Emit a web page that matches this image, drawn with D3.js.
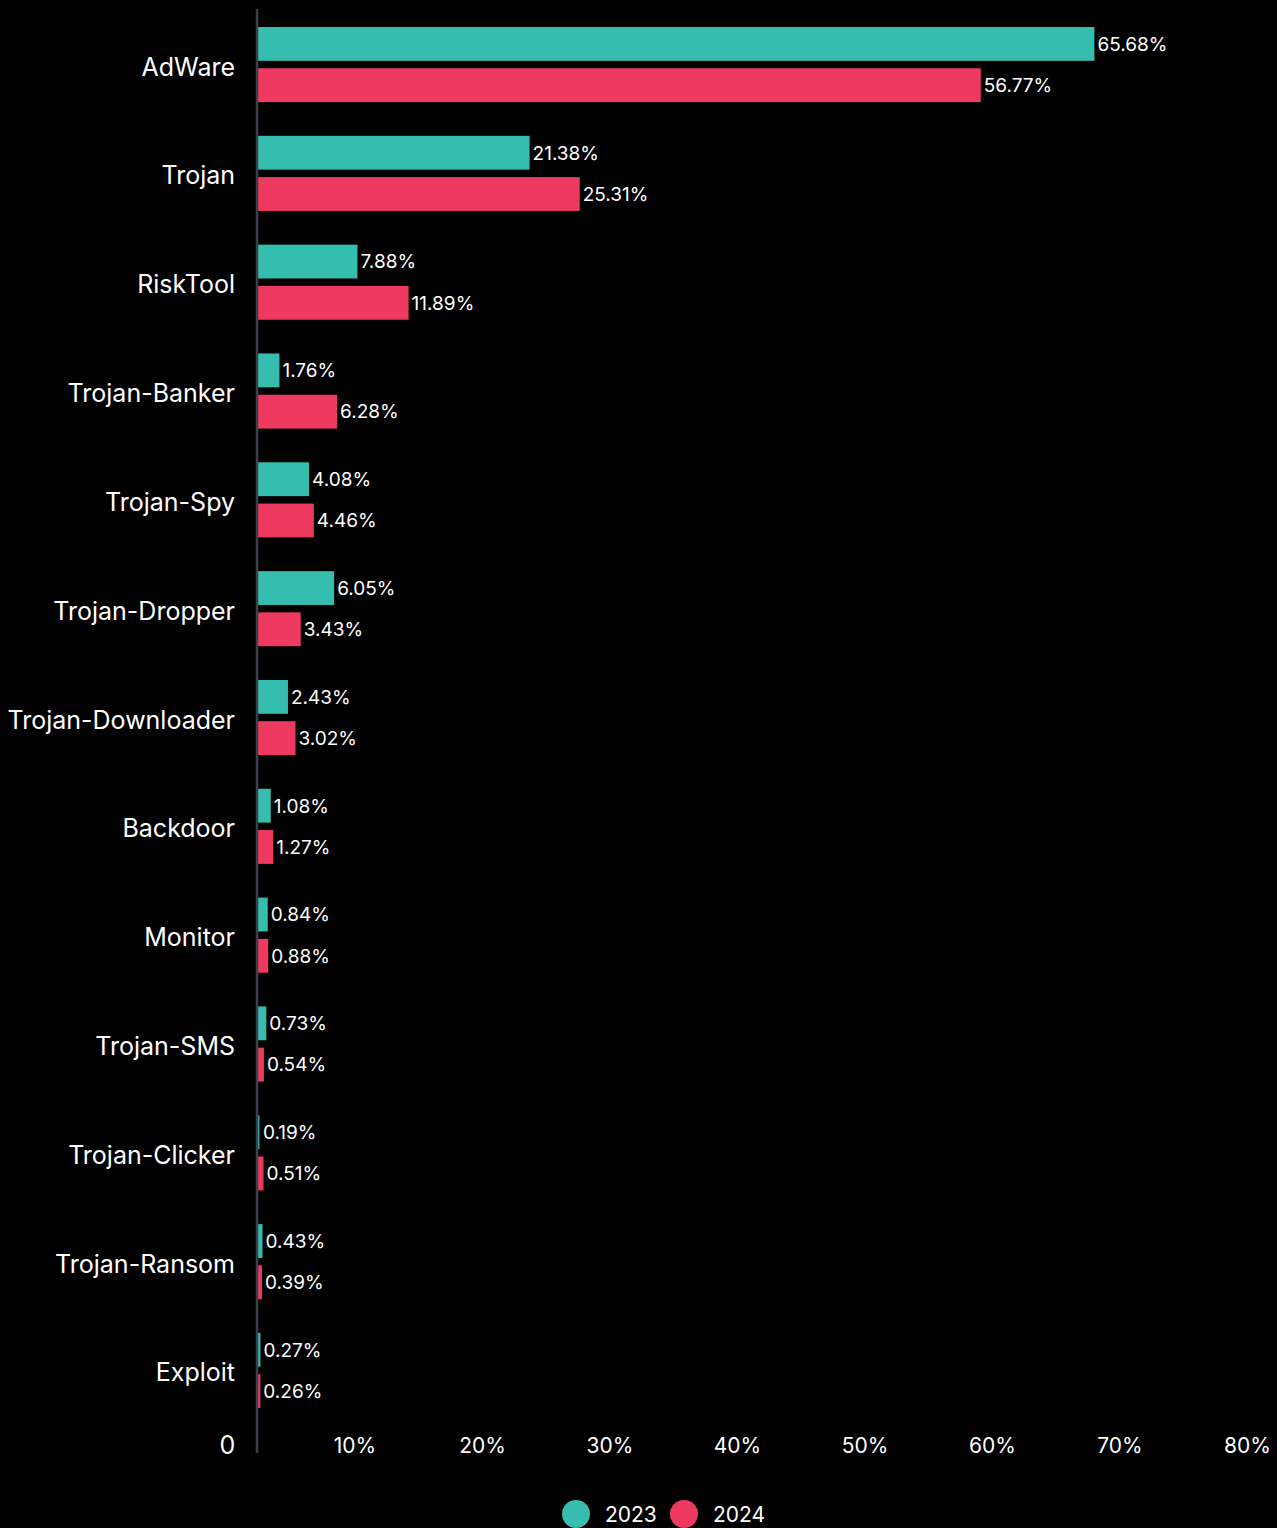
<!DOCTYPE html>
<html>
<head>
<meta charset="utf-8">
<script src="https://cdn.jsdelivr.net/npm/d3@7"></script>
<style>
  html, body { margin: 0; padding: 0; background: #000; }
  svg { display: block; font-family: Inter, 'Noto Sans', sans-serif; }
</style>
</head>
<body>
<div id="viz"></div>
<script>
'use strict';

const categories = [
  'AdWare', 'Trojan', 'RiskTool', 'Trojan-Banker', 'Trojan-Spy', 'Trojan-Dropper',
  'Trojan-Downloader', 'Backdoor', 'Monitor', 'Trojan-SMS', 'Trojan-Clicker',
  'Trojan-Ransom', 'Exploit'
];
const years = ['2023', '2024'];
const values2023 = [65.68, 21.38, 7.88, 1.76, 4.08, 6.05, 2.43, 1.08, 0.84, 0.73, 0.19, 0.43, 0.27];
const values2024 = [56.77, 25.31, 11.89, 6.28, 4.46, 3.43, 3.02, 1.27, 0.88, 0.54, 0.51, 0.39, 0.26];
const xTicks = [0, 10, 20, 30, 40, 50, 60, 70, 80];

const colors = {'2023': '#35bdb0', '2024': '#ef3a5f'};

const W = 1277, H = 1528;

const svg = d3.select('#viz')
  .append('svg')
    .attr('width', W)
    .attr('height', H);

svg.append('rect')
  .attr('width', W)
  .attr('height', H)
  .attr('fill', '#000');

// x: percent -> pixels, axis line sits at 0
const x = d3.scaleLinear()
  .domain([0, 80])
  .range([257, 1277]);

// one band per category, each holding the pair of bars
const y = d3.scaleBand()
  .domain(categories)
  .range([27, 1408])
  .paddingInner(0.31)
  .paddingOuter(0);

const ySub = d3.scaleBand()
  .domain(years)
  .range([0, y.bandwidth()])
  .paddingInner(0.18);

const rows = categories.map((c, i) => ({
  category: c,
  values: [
    {year: '2023', value: values2023[i]},
    {year: '2024', value: values2024[i]}
  ]
}));

const groups = svg.selectAll('g.cat')
  .data(rows)
  .enter()
  .append('g')
    .attr('class', 'cat')
    .attr('transform', d => `translate(0,${y(d.category)})`);

groups.selectAll('rect')
  .data(d => d.values)
  .enter()
  .append('rect')
    .attr('x', x(0))
    .attr('y', d => ySub(d.year))
    .attr('width', d => Math.max(1, x(d.value) - x(0)))
    .attr('height', ySub.bandwidth())
    .attr('fill', d => colors[d.year]);

groups.selectAll('text.val')
  .data(d => d.values)
  .enter()
  .append('text')
    .attr('class', 'val')
    .attr('x', d => Math.max(x(d.value), x(0) + 3) + 3)
    .attr('y', d => ySub(d.year) + ySub.bandwidth() / 2)
    .attr('dy', '0.36em')
    .attr('fill', '#fff')
    .attr('font-size', 19)
    .text(d => d.value.toFixed(2) + '%');

// category labels
svg.append('g')
  .selectAll('text')
  .data(categories)
  .enter()
  .append('text')
    .attr('x', 235)
    .attr('y', d => y(d) + y.bandwidth() / 2 + 2)
    .attr('dy', '0.36em')
    .attr('text-anchor', 'end')
    .attr('fill', '#fff')
    .attr('font-size', 25)
    .text(d => d);

// vertical axis line
svg.append('line')
  .attr('x1', x(0))
  .attr('x2', x(0))
  .attr('y1', 9)
  .attr('y2', 1453)
  .attr('stroke', '#3b404a')
  .attr('stroke-width', 2.5);

// bottom tick labels (drawn shifted left of their tick, as in the source)
const xAxis = svg.append('g')
  .attr('transform', 'translate(0,1445)')
  .call(d3.axisBottom(x)
    .tickValues(xTicks)
    .tickSize(0)
    .tickFormat(d => d === 0 ? '0' : d + '%'));

xAxis.select('.domain').remove();
xAxis.selectAll('text')
  .attr('y', 0)
  .attr('dy', '0.36em')
  .attr('dx', -30)
  .attr('fill', '#fff')
  .attr('font-size', 21)
  .attr('font-family', 'Inter, sans-serif');
xAxis.selectAll('.tick')
  .filter(d => d === 0)
  .select('text')
    .attr('font-size', 25);

// legend
const legend = svg.append('g')
  .attr('transform', 'translate(576,1514)');

const item = legend.selectAll('g')
  .data(years)
  .enter()
  .append('g')
    .attr('transform', (d, i) => `translate(${i * 108},0)`);

item.append('circle')
  .attr('r', 14)
  .attr('fill', d => colors[d]);

item.append('text')
  .attr('x', 29)
  .attr('dy', '0.36em')
  .attr('fill', '#fff')
  .attr('font-size', 21)
  .text(d => d);
</script>
</body>
</html>
